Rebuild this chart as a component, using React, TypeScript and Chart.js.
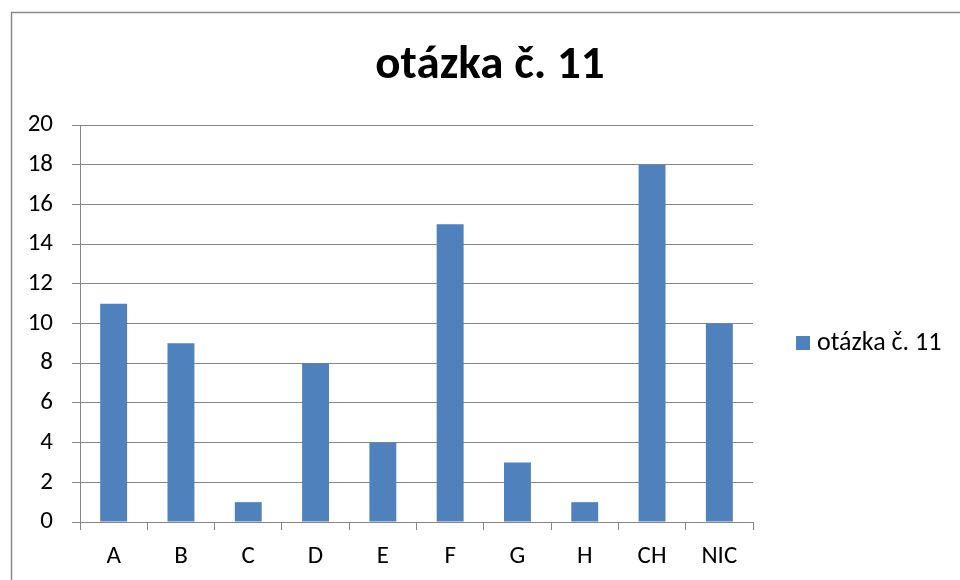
import React, { useEffect, useRef } from "react";
import { Chart, registerables } from "chart.js";

Chart.register(...registerables);

const categories: string[] = ["A", "B", "C", "D", "E", "F", "G", "H", "CH", "NIC"];
const values: number[] = [11, 9, 1, 8, 4, 15, 3, 1, 18, 10];
const seriesName = "otázka č. 11";
const chartTitle = "otázka č. 11";
const yMin = 0;
const yMax = 20;
const yStep = 2;

const FONT = "Carlito, Calibri, Lato, sans-serif";
const BAR = "#4F81BD";
const GRID = "#868686";

export default function App() {
  const ref = useRef<HTMLCanvasElement | null>(null);

  useEffect(() => {
    if (!ref.current) return;
    const deco = {
      id: "deco",
      beforeDraw(chart: any) {
        const ctx = chart.ctx;
        ctx.save();
        ctx.fillStyle = "#ffffff";
        ctx.fillRect(0, 0, chart.width, chart.height);
        ctx.strokeStyle = "#8a8a8a";
        ctx.lineWidth = 1.5;
        ctx.beginPath();
        ctx.moveTo(11.5, chart.height);
        ctx.lineTo(11.5, 12.5);
        ctx.lineTo(chart.width, 12.5);
        ctx.stroke();
        ctx.restore();
      },
      afterDraw(chart: any) {
        const ctx = chart.ctx;
        ctx.save();
        // title
        ctx.fillStyle = "#000";
        ctx.font = `bold 47px ${FONT}`;
        ctx.textAlign = "center";
        ctx.textBaseline = "alphabetic";
        ctx.fillText(chartTitle, 490, 78);
        // legend
        const ds = chart.data.datasets[0];
        ctx.fillStyle = ds.backgroundColor;
        ctx.fillRect(796, 336, 14, 14);
        ctx.fillStyle = "#000";
        ctx.font = `26px ${FONT}`;
        ctx.textAlign = "left";
        ctx.textBaseline = "middle";
        ctx.fillText(ds.label, 817, 343);
        ctx.restore();
      },
    };

    const chart = new Chart(ref.current, {
      type: "bar",
      data: {
        labels: categories,
        datasets: [
          {
            label: seriesName,
            data: values,
            backgroundColor: BAR,
            borderWidth: 0,
            categoryPercentage: 0.4,
            barPercentage: 1,
          },
        ],
      },
      options: {
        responsive: false,
        animation: false,
        layout: { padding: { left: 20, right: 207, top: 125, bottom: 0 } },
        plugins: {
          legend: { display: false },
          title: { display: false },
          tooltip: { enabled: false },
        },
        scales: {
          x: {
            grid: {
              offset: true,
              drawOnChartArea: false,
              drawTicks: true,
              tickLength: 8,
              color: GRID,
            },
            border: { color: GRID, width: 1 },
            ticks: {
              color: "#000",
              font: { family: FONT, size: 25 },
              padding: 12,
              maxRotation: 0,
              autoSkip: false,
            },
            afterFit: (s: any) => {
              s.height = 58;
            },
          },
          y: {
            min: yMin,
            max: yMax,
            grid: { color: GRID, tickLength: 8, drawTicks: true },
            border: { color: GRID, width: 1 },
            ticks: {
              stepSize: yStep,
              color: "#000",
              font: { family: FONT, size: 25 },
              padding: 19,
            },
            afterFit: (s: any) => {
              s.width = 60;
            },
          },
        },
      },
      plugins: [deco],
    });
    return () => chart.destroy();
  }, []);

  return (
    <div style={{ position: "fixed", left: 0, top: 0, width: 960, height: 580 }}>
      <canvas ref={ref} width={960} height={580} />
    </div>
  );
}
